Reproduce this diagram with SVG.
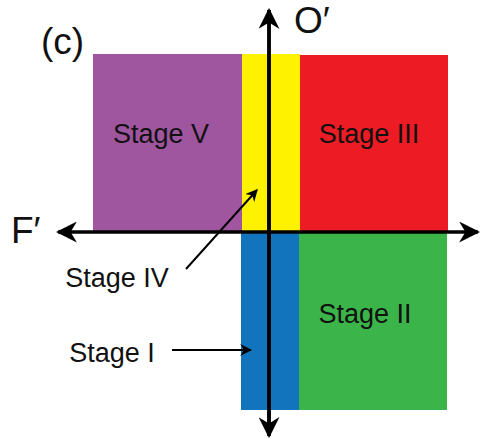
<svg xmlns="http://www.w3.org/2000/svg" width="480" height="439" viewBox="0 0 480 439">
  <style>
    .lbl { font-family: "Liberation Sans", Arial, sans-serif; font-size: 27px; fill: #111; text-anchor: middle; }
    .big { font-family: "Liberation Sans", Arial, sans-serif; font-size: 37px; fill: #111; }
    .axis { stroke: #000; stroke-width: 3.5; fill: none; }
    .ptr { stroke: #000; stroke-width: 2; fill: none; }
  </style>
  <defs>
    <marker id="bigHead" viewBox="0 0 10 10" refX="9" refY="5" markerWidth="6" markerHeight="6" markerUnits="strokeWidth" orient="auto">
      <path d="M0,0 L10,5 L0,10 L3,5 Z" fill="#000"/>
    </marker>
    <marker id="smallHead" viewBox="0 0 10 10" refX="9" refY="5" markerWidth="6" markerHeight="6" markerUnits="strokeWidth" orient="auto">
      <path d="M0,0 L10,5 L0,10 L3,5 Z" fill="#000"/>
    </marker>
  </defs>

  <text class="big" x="41" y="54">(c)</text>

  <g id="stage-v">
    <rect x="93" y="54" width="149" height="177" fill="#a0559f"/>
    <text class="lbl" x="161" y="143">Stage V</text>
  </g>
  <g id="stage-iv-band">
    <rect x="242" y="54" width="58" height="177" fill="#fff200"/>
  </g>
  <g id="stage-iii">
    <rect x="300" y="55" width="148" height="176" fill="#ed1c24"/>
    <text class="lbl" x="369" y="143">Stage III</text>
  </g>
  <g id="stage-i-band">
    <rect x="241" y="232" width="58" height="178" fill="#1174bd"/>
  </g>
  <g id="stage-ii">
    <rect x="299" y="232" width="148" height="178" fill="#3bb54a"/>
    <text class="lbl" x="365" y="323">Stage II</text>
  </g>

  <g id="stage-iv-label">
    <text class="lbl" x="117" y="287">Stage IV</text>
  </g>
  <g id="stage-i-label">
    <text class="lbl" x="112" y="362">Stage I</text>
  </g>

  <g id="connectors">
    <line class="axis" x1="269" y1="436" x2="269" y2="10" marker-end="url(#bigHead)"/>
    <line class="axis" x1="269" y1="10" x2="269" y2="436" marker-end="url(#bigHead)"/>
    <line class="axis" x1="270" y1="232" x2="58" y2="232" marker-end="url(#bigHead)"/>
    <line class="axis" x1="268" y1="232" x2="478" y2="232" marker-end="url(#bigHead)"/>
    <line class="ptr" x1="186" y1="269" x2="257" y2="190" marker-end="url(#smallHead)"/>
    <line class="ptr" x1="172" y1="350" x2="251" y2="350" marker-end="url(#smallHead)"/>
  </g>

  <text class="big" x="294" y="33">O′</text>
  <text class="big" x="11" y="243">F′</text>
</svg>
